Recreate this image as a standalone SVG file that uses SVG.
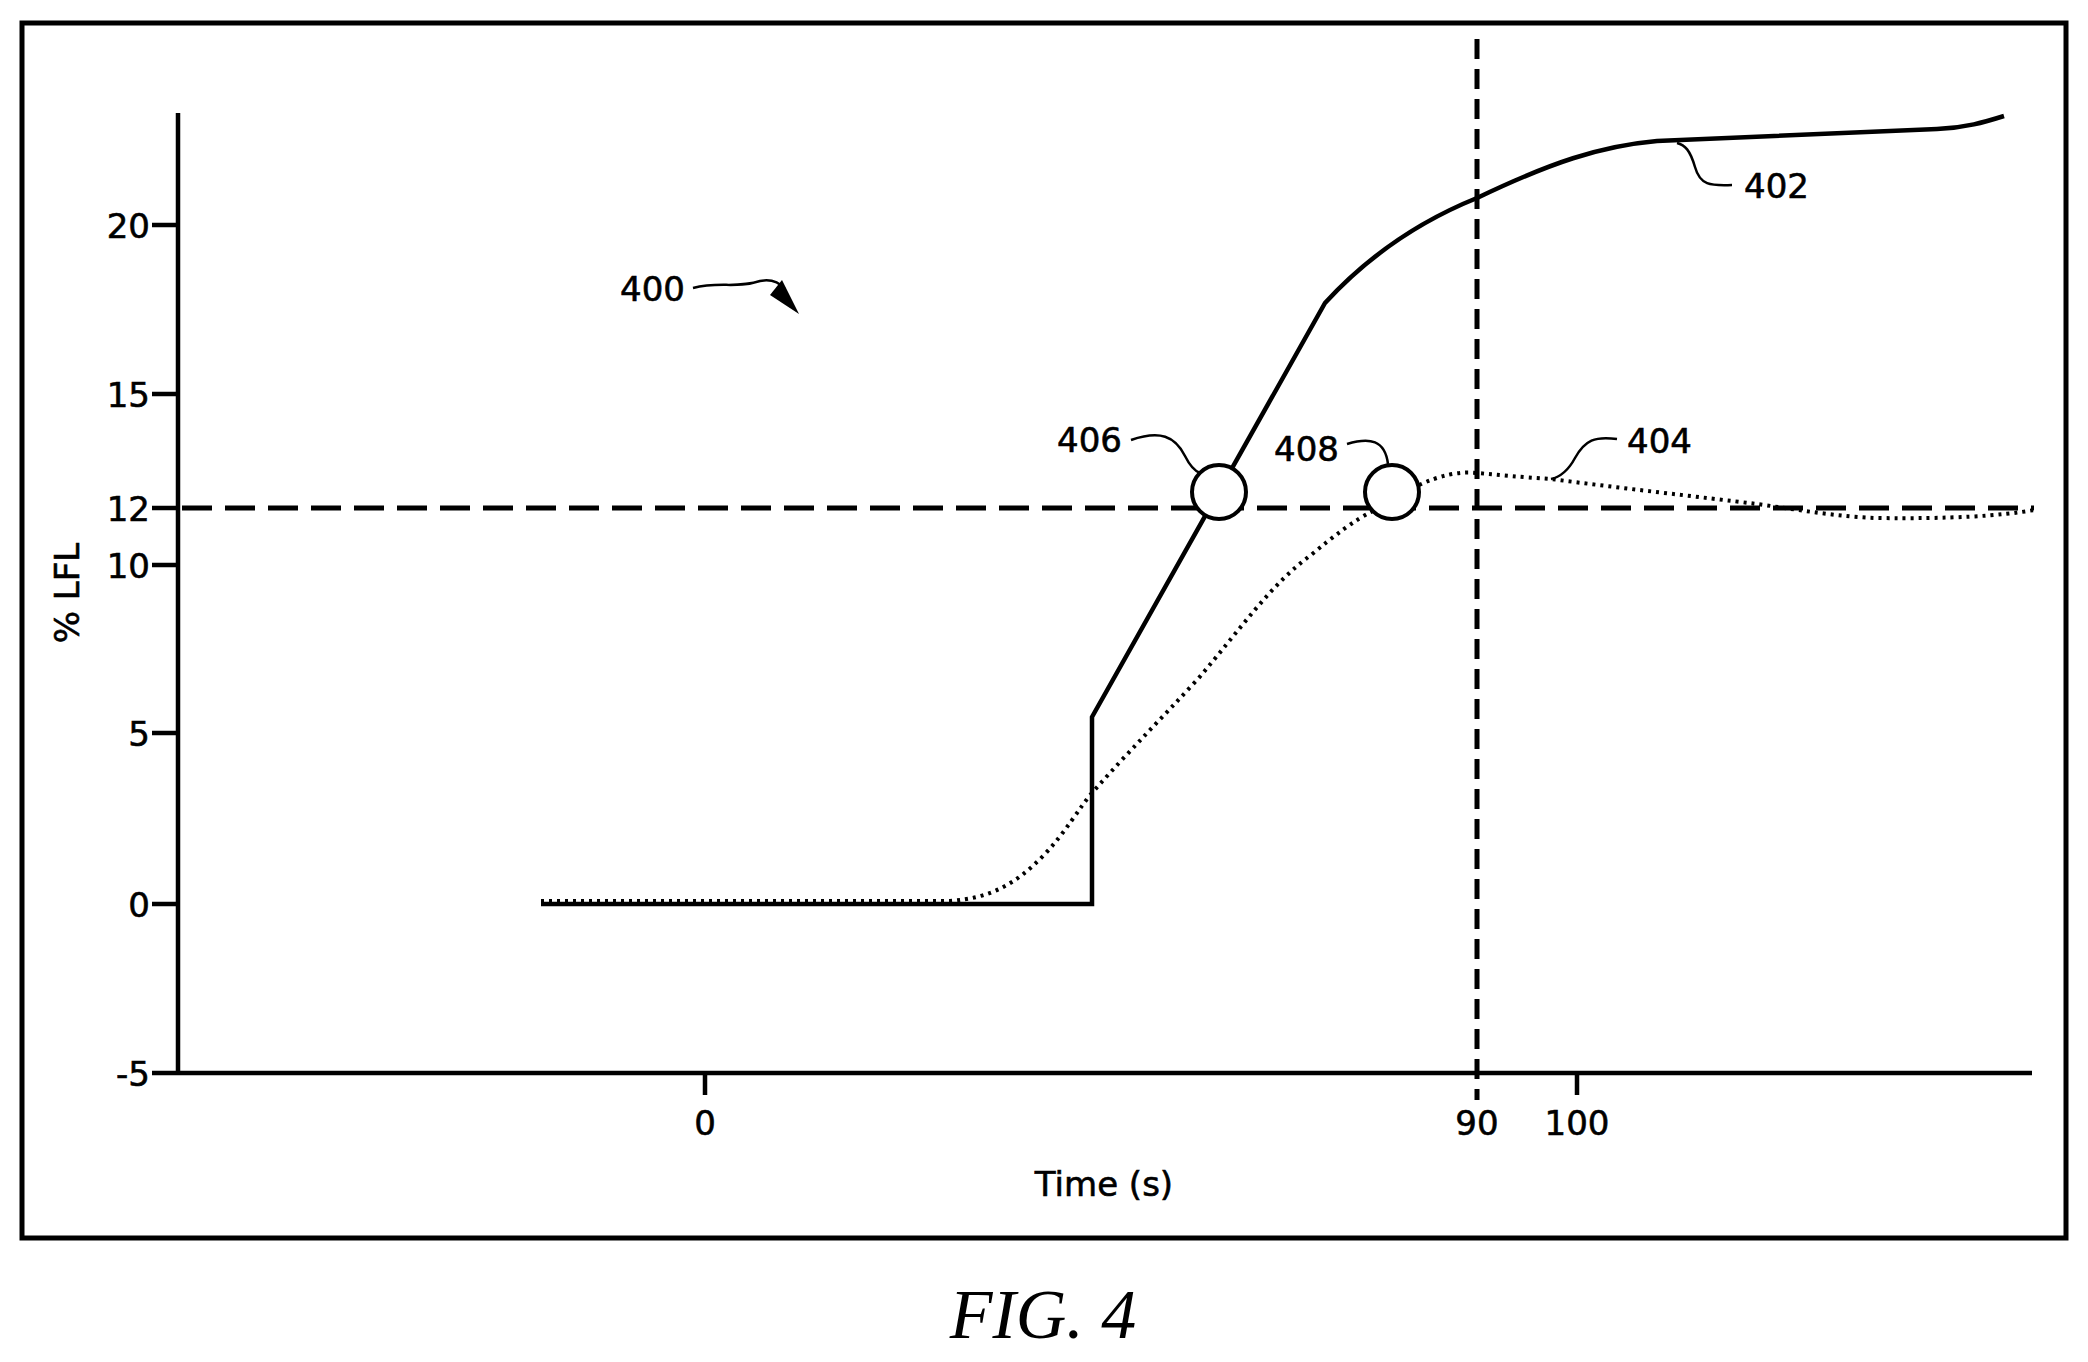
<svg xmlns="http://www.w3.org/2000/svg" width="2088" height="1362" viewBox="0 0 2088 1362">
<style>
text{font-family:"DejaVu Sans",Verdana,sans-serif;font-size:34px;fill:#000;stroke:#000;stroke-width:0.6}
.ax{stroke:#000;stroke-width:4.5;fill:none}
.ld{stroke:#000;stroke-width:2.5;fill:none}
</style>
<rect width="2088" height="1362" fill="#fff"/>
<rect x="22" y="23" width="2044" height="1215" fill="none" stroke="#000" stroke-width="5"/>
<g id="axes">
<path class="ax" d="M178 113V1073H2032M152 225H178M152 394H178M152 508H178M152 565H178M152 733H178M152 904H178M152 1073H178M705 1073V1095M1577 1073V1095"/>
<g text-anchor="end"><text x="150" y="238">20</text><text x="150" y="407">15</text><text x="150" y="521">12</text><text x="150" y="578">10</text><text x="150" y="746">5</text><text x="150" y="917">0</text><text x="150" y="1086">-5</text></g>
<g text-anchor="middle"><text x="705" y="1135">0</text><text x="1477" y="1135">90</text><text x="1577" y="1135">100</text><text x="1104" y="1196">Time (s)</text></g>
<text transform="translate(79,593) rotate(-90)" text-anchor="middle">% LFL</text>
</g>
<g id="thresholds">
<path d="M182 508H2034" stroke="#000" stroke-width="5" stroke-dasharray="30 13" fill="none"/>
<path d="M1477 39V1100" stroke="#000" stroke-width="5" stroke-dasharray="20 10" fill="none"/>
</g>
<g id="c402"><path class="ax" d="M541 904H1092V717L1325 303C1370 254 1420 221 1477 198C1550 163 1600 146 1657 141L1937 129C1965 128 1985 122 2004 116"/></g>
<g id="c404"><path d="M541 901H950C990 898 1015 885 1044 855C1065 833 1080 807 1091 794C1130 750 1160 720 1197 680C1240 630 1270 585 1311 555C1335 535 1355 520 1371 512C1390 501 1405 488 1417 486C1440 475 1460 471 1477 473C1500 475 1520 477 1551 479C1620 488 1700 497 1757 504C1800 510 1840 517 1877 518C1950 519 2000 516 2034 510" stroke="#000" stroke-width="4" stroke-dasharray="3 5" fill="none"/></g>
<g id="n406"><circle cx="1219" cy="492" r="27" fill="#fff" stroke="#000" stroke-width="4"/><text x="1057" y="452">406</text></g>
<g id="n408"><circle cx="1392" cy="492" r="27" fill="#fff" stroke="#000" stroke-width="4"/><text x="1274" y="461">408</text></g>
<g id="l402"><text x="1744" y="198">402</text></g>
<g id="l404"><text x="1627" y="453">404</text></g>
<g id="l400"><text x="620" y="301">400</text></g>
<g id="connectors">
<path class="ld" d="M1131 440C1160 430 1175 436 1185 456C1190 466 1195 471 1200 473"/>
<path class="ld" d="M1347 444C1370 437 1385 440 1388 464"/>
<path class="ld" d="M1617 439C1595 436 1585 440 1575 458C1568 471 1560 477 1551 479"/>
<path class="ld" d="M1732 185C1710 186 1700 185 1695 167C1690 150 1685 145 1677 143"/>
<path class="ld" d="M693 288C720 281 735 289 760 281C770 279 778 281 785 289"/>
<path d="M799 314L770 295L782 280Z" fill="#000"/>
</g>
<text x="1043" y="1338" text-anchor="middle" style="font-family:'Liberation Serif',serif;font-style:italic;font-size:70px;stroke:none">FIG. 4</text>
</svg>
